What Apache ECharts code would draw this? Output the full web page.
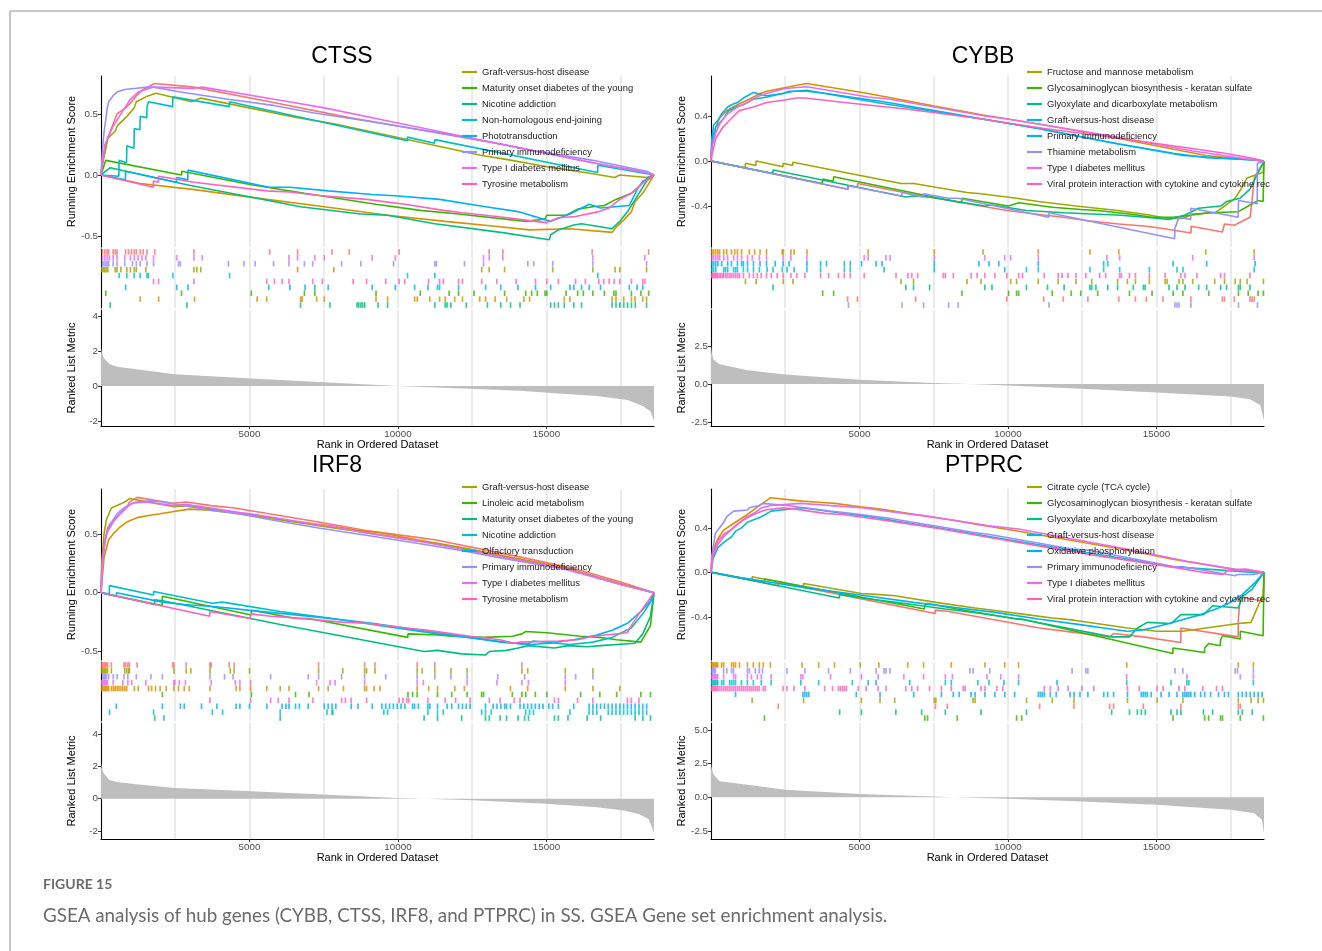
<!DOCTYPE html>
<html>
<head>
<meta charset="utf-8">
<title>GSEA analysis of hub genes</title>
<script src="https://cdn.jsdelivr.net/npm/echarts@6/dist/echarts.min.js"></script>
<style>
  html, body { margin: 0; padding: 0; background: #fff; }
  #chart { width: 1322px; height: 951px; }
</style>
</head>
<body>
<div id="chart"></div>
<script>
// ggplot hue palette (10 gene sets per panel, first two not listed in the legend)
var setColors = ['#F8766D', '#D89000', '#A3A500', '#39B600', '#00BF7D', '#00BFC4', '#00B0F6', '#9590FF', '#E76BF3', '#FF62BC'];
var nGenes = 18620;
var rankTicks = [5000, 10000, 15000];

// ---------------- CTSS ----------------
var ctssSets = [null, null, 'Graft-versus-host disease', 'Maturity onset diabetes of the young', 'Nicotine addiction',
  'Non-homologous end-joining', 'Phototransduction', 'Primary immunodeficiency', 'Type I diabetes mellitus', 'Tyrosine metabolism'];
var ctssRugOrder = [0, 8, 7, 2, 5, 9, 6, 3, 1, 4];
var ctssScores = [
  [[0,0],[50,0.08],[130,0.2],[210,0.3],[280,0.34],[410,0.42],[540,0.5],[830,0.55],[1030,0.6],[1190,0.65],[1420,0.7],[1810,0.75],[3130,0.72],[5680,0.6],[8360,0.47],[10040,0.4],[13530,0.25],[16540,0.1],[18440,0.02],[18620,0]],
  [[0,0],[1320,-0.07],[3150,-0.12],[5580,-0.2],[7520,-0.26],[9650,-0.33],[11590,-0.38],[13270,-0.42],[14430,-0.45],[15790,-0.44],[17210,-0.47],[17340,-0.43],[17600,-0.37],[17860,-0.3],[17980,-0.22],[18240,-0.15],[18370,-0.1],[18620,0]],
  [[0,0],[30,0.08],[130,0.18],[230,0.3],[480,0.36],[540,0.4],[870,0.48],[1120,0.55],[1190,0.6],[1510,0.64],[1850,0.67],[3050,0.6],[3360,0.63],[6620,0.47],[7840,0.42],[12820,0.16],[13590,0.13],[15210,0.06],[16560,0.01],[17300,-0.02],[17470,0.0],[18370,-0.02],[18620,0]],
  [[0,0],[160,0.12],[2710,0.0],[2720,0.03],[5060,-0.08],[6850,-0.15],[9260,-0.24],[10750,-0.29],[12040,-0.32],[14300,-0.38],[14950,-0.36],[15010,-0.33],[15660,-0.33],[16050,-0.28],[16560,-0.26],[16950,-0.25],[17340,-0.2],[17860,-0.15],[18180,-0.08],[18440,-0.02],[18620,0]],
  [[0,0],[310,0.06],[2890,-0.08],[6720,-0.26],[8750,-0.32],[9650,-0.33],[11240,-0.4],[13460,-0.47],[15100,-0.53],[15140,-0.49],[15400,-0.45],[15920,-0.41],[16180,-0.4],[17210,-0.44],[17470,-0.38],[17730,-0.3],[17990,-0.2],[18370,-0.05],[18620,0]],
  [[0,0],[600,-0.01],[610,0.12],[860,0.1],[870,0.24],[1110,0.22],[1120,0.38],[1310,0.37],[1320,0.48],[1540,0.47],[1550,0.56],[1600,0.6],[2410,0.56],[2420,0.64],[4320,0.56],[4330,0.6],[10310,0.28],[10320,0.31],[11230,0.26],[11240,0.29],[16720,0.02],[16730,0.08],[18620,0]],
  [[0,0],[820,-0.04],[830,0.03],[2540,-0.06],[2550,-0.02],[2920,-0.04],[2930,0.04],[5650,-0.1],[6360,-0.1],[7650,-0.13],[9130,-0.16],[9910,-0.17],[11400,-0.2],[12950,-0.26],[14040,-0.3],[15140,-0.38],[15790,-0.32],[16180,-0.27],[16440,-0.24],[16820,-0.27],[17790,-0.25],[18050,-0.12],[18240,-0.05],[18620,0]],
  [[0,0],[50,0.2],[100,0.35],[160,0.45],[210,0.55],[260,0.6],[410,0.65],[540,0.68],[800,0.7],[1190,0.71],[1550,0.72],[1770,0.72],[2670,0.68],[4290,0.62],[5810,0.57],[7130,0.51],[8750,0.45],[11290,0.35],[12880,0.28],[14570,0.2],[16560,0.12],[18370,0.03],[18620,0]],
  [[0,0],[50,0.1],[130,0.25],[280,0.33],[410,0.4],[540,0.45],[800,0.55],[990,0.62],[1250,0.68],[1510,0.7],[1770,0.72],[3130,0.71],[3410,0.72],[6330,0.6],[7520,0.55],[9910,0.43],[13530,0.25],[16560,0.1],[18310,0.02],[18620,0]],
  [[0,0],[1760,-0.1],[1770,-0.05],[1930,-0.06],[1940,-0.01],[3130,-0.06],[5580,-0.13],[6330,-0.14],[7450,-0.17],[8940,-0.2],[10230,-0.24],[11530,-0.29],[12170,-0.31],[13330,-0.34],[14630,-0.38],[15010,-0.39],[15400,-0.35],[15980,-0.34],[16760,-0.3],[17110,-0.27],[17470,-0.2],[17860,-0.15],[18310,-0.05],[18620,0]]
];
var ctssHits = [
  [50,130,210,260,410,480,540,830,930,1030,1120,1190,1320,1420,1550,1810,3130,5680,6620,7780,8360,10040,13070,13530,16540,18440],
  [1320,1940,3150,5260,5580,6720,6770,7260,7520,9260,9650,10560,10650,11070,11400,11590,11910,12170,12750,12950,13270,13660,14240,14430,15600,15790,17210,17340,17600,17860,17980,18240,18370],
  [30,80,130,180,230,480,540,670,870,990,1120,1190,1510,3130,3230,3360,6620,7840,12820,13070,13590,15210,16560,17310,17470,18370],
  [160,2710,5060,6850,7200,9260,10750,11720,12040,12560,13590,14300,14500,14690,14950,15010,15660,16050,16240,16560,16950,17270,17340,17860,18180,18440],
  [310,2890,6720,7710,8620,8680,8750,8810,8880,9330,9650,11240,11590,11650,11780,12300,13010,13460,13790,14110,15140,15270,15400,15600,15920,16180,17210,17340,17470,17600,17730,17860,17990,18370],
  [610,870,1120,1320,1550,1600,2420,4330,10320,11240,16730],
  [830,2550,2930,5650,6360,6870,7200,7650,9130,9910,10560,11010,11330,11400,12040,12950,13460,14040,14630,15140,15790,15920,16180,16440,16820,17790,18050,18240],
  [50,100,160,210,260,410,540,800,1060,1190,1320,1550,1770,2610,2670,4290,4810,5190,5810,6330,6850,7130,8100,8750,9850,11240,11290,12240,12880,14370,14570,15210,16560,18370],
  [50,130,210,280,410,540,800,990,1120,1250,1380,1510,1770,2550,3130,3410,6330,6620,7200,7520,9130,9910,12880,13070,13530,16560,18310],
  [1770,1940,3130,5580,5840,6100,6330,7130,7450,8490,8940,9590,10040,10230,11030,11400,11530,12040,12170,12820,13330,13980,14630,15010,15400,15980,16310,16760,16930,17110,17280,17470,17860,18240,18310]
];
var ctssMetric = [[0,2.2],[30,1.85],[90,1.6],[280,1.25],[540,1.1],[1190,0.95],[2480,0.67],[5065,0.42],[7650,0.2],[9980,0],[11525,-0.1],[14110,-0.28],[15400,-0.43],[16690,-0.57],[17730,-0.8],[18240,-1.15],[18500,-1.45],[18620,-2.0]];

// ---------------- CYBB ----------------
var cybbSets = [null, null, 'Fructose and mannose metabolism', 'Glycosaminoglycan biosynthesis - keratan sulfate',
  'Glyoxylate and dicarboxylate metabolism', 'Graft-versus-host disease', 'Primary immunodeficiency', 'Thiamine metabolism',
  'Type I diabetes mellitus', 'Viral protein interaction with cytokine and cytokine receptor'];
var cybbRugOrder = [1, 8, 6, 5, 9, 2, 4, 3, 0, 7];
var cybbScores = [
  [[0,0],[4600,-0.25],[4610,-0.22],[4930,-0.23],[4940,-0.2],[6890,-0.3],[9960,-0.44],[11200,-0.48],[11860,-0.5],[12690,-0.53],[13730,-0.56],[14660,-0.58],[15220,-0.6],[16160,-0.64],[16170,-0.58],[17220,-0.63],[17290,-0.56],[17620,-0.57],[18150,-0.5],[18220,-0.35],[18290,-0.15],[18620,0]],
  [[0,0],[30,0.15],[160,0.3],[290,0.38],[530,0.45],[890,0.5],[1290,0.55],[1650,0.6],[1870,0.62],[2430,0.65],[2800,0.67],[3230,0.69],[5290,0.6],[7520,0.49],[9160,0.41],[11020,0.33],[12760,0.25],[13730,0.2],[16660,0.05],[18290,0.01],[18620,0]],
  [[0,0],[1150,-0.06],[1160,-0.02],[1510,-0.04],[1520,0.0],[2420,-0.05],[2430,-0.02],[2750,-0.04],[2760,-0.01],[6400,-0.2],[6820,-0.2],[8620,-0.28],[9090,-0.29],[10290,-0.33],[11020,-0.36],[12290,-0.4],[13690,-0.44],[14760,-0.48],[15360,-0.51],[15890,-0.51],[16220,-0.47],[16960,-0.46],[17290,-0.4],[17650,-0.33],[17820,-0.26],[18050,-0.15],[18590,-0.1],[18620,0]],
  [[0,0],[3750,-0.2],[3760,-0.16],[4120,-0.18],[4130,-0.14],[8440,-0.37],[8450,-0.33],[10020,-0.4],[10360,-0.37],[11490,-0.41],[12450,-0.43],[13020,-0.44],[14090,-0.47],[14850,-0.5],[15560,-0.5],[15890,-0.49],[16760,-0.46],[17760,-0.45],[18090,-0.4],[18420,-0.35],[18590,-0.36],[18620,0]],
  [[0,0],[2080,-0.11],[2090,-0.08],[6560,-0.32],[6820,-0.31],[7360,-0.32],[9220,-0.4],[9460,-0.39],[10620,-0.44],[11330,-0.45],[11890,-0.46],[12820,-0.47],[13690,-0.48],[14620,-0.5],[15420,-0.52],[15960,-0.48],[16420,-0.42],[17160,-0.4],[17360,-0.36],[17820,-0.33],[18150,-0.25],[18620,0]],
  [[0,0],[30,0.18],[160,0.3],[430,0.38],[560,0.44],[830,0.48],[1090,0.5],[1430,0.55],[1890,0.57],[2400,0.6],[2800,0.62],[3230,0.63],[4690,0.56],[5830,0.51],[7520,0.44],[9890,0.34],[11020,0.29],[13760,0.15],[15890,0.05],[18290,0.01],[18620,0]],
  [[0,0],[30,0.2],[90,0.32],[230,0.36],[360,0.42],[560,0.48],[690,0.5],[890,0.52],[1090,0.56],[1230,0.58],[1430,0.61],[1870,0.58],[2430,0.6],[2630,0.62],[3230,0.62],[3890,0.6],[4690,0.57],[5760,0.53],[7520,0.45],[9690,0.35],[11020,0.29],[13360,0.17],[15560,0.07],[16690,0.03],[18320,0.01],[18620,0]],
  [[0,0],[4620,-0.25],[4630,-0.22],[6420,-0.31],[6430,-0.28],[7150,-0.32],[7160,-0.29],[8000,-0.33],[8320,-0.33],[11370,-0.5],[11380,-0.46],[15610,-0.69],[15620,-0.6],[15760,-0.5],[16150,-0.52],[16160,-0.42],[17750,-0.5],[17760,-0.35],[18390,-0.38],[18400,-0.02],[18620,0]],
  [[0,0],[30,0.12],[160,0.25],[290,0.33],[430,0.38],[560,0.42],[890,0.48],[1230,0.52],[1630,0.58],[1870,0.6],[2430,0.64],[2690,0.65],[3230,0.66],[5290,0.57],[6030,0.55],[7520,0.48],[9220,0.4],[10090,0.37],[11020,0.33],[13330,0.23],[13760,0.21],[16220,0.09],[18290,0.01],[18620,0]],
  [[0,0],[30,0.05],[160,0.2],[400,0.3],[690,0.38],[960,0.45],[1430,0.48],[1870,0.52],[2430,0.54],[2890,0.56],[3160,0.56],[4490,0.52],[6630,0.46],[8960,0.38],[11220,0.29],[13820,0.2],[15960,0.12],[17290,0.07],[18150,0.03],[18620,0]]
];
var cybbHits = [
  [4600,4930,6890,9960,11200,11860,12690,13730,14290,14660,15220,16160,17220,17290,17620,18150,18220,18290],
  [30,90,160,230,290,430,530,690,800,890,1030,1290,1470,1650,1870,2400,2430,2690,2800,3230,5290,7520,9160,11020,12760,13730,16660,18290],
  [1160,1520,2430,2760,6400,6820,8620,9090,10090,10290,11020,11690,12290,12820,13690,14020,14290,14760,15290,15360,15760,15890,16220,16960,17290,17650,17820,18050,18600],
  [3760,4130,8450,10020,10290,10360,11490,12130,12450,13020,14090,14850,15560,15890,16760,17760,18090,18420,18600],
  [2090,6560,6820,7360,9220,9460,10620,11330,11890,12760,12820,12960,13360,13690,14220,14560,14620,15420,15690,15960,16420,16690,17160,17360,17760,17820,18150],
  [30,90,160,430,490,560,760,830,890,1090,1230,1430,1630,1890,2090,2400,2560,2800,3230,3690,4490,4690,5830,7520,9890,10620,11020,12760,13220,13760,14760,15690,15890,18290],
  [30,90,160,230,360,560,690,890,1030,1090,1230,1430,1650,1870,2160,2430,2630,3230,3690,3890,4490,4690,5070,5560,5760,7520,9020,9360,9690,11020,13220,13360,15560,16690,18320],
  [4630,6430,7160,8000,8320,11380,15620,15690,15760,16160,17760,18400],
  [30,90,160,230,290,430,560,760,890,1030,1230,1390,1630,1870,2430,2690,3230,5160,5290,5890,6030,7520,9220,9890,10090,11020,13330,13760,16220,18290],
  [30,60,90,130,160,200,230,290,330,400,430,500,560,630,690,760,830,900,960,1090,1290,1430,1560,1690,1870,2030,2230,2430,2690,2890,3160,3690,3960,4290,4490,4690,5160,6230,6630,6760,6960,7820,7890,8160,8760,8960,9220,9560,9960,10360,10490,11220,11690,11820,12020,12290,12620,13090,13290,13760,13820,14090,14290,14760,15290,15820,15960,16360,17160,17290,18150]
];
var cybbMetric = [[0,2.6],[30,2.0],[90,1.6],[290,1.3],[1230,0.9],[2500,0.62],[5000,0.29],[7500,0.07],[8700,0],[10000,-0.09],[12500,-0.31],[15000,-0.56],[17500,-0.82],[18150,-1.0],[18490,-1.38],[18620,-2.4]];

// ---------------- IRF8 ----------------
var irf8Sets = [null, null, 'Graft-versus-host disease', 'Linoleic acid metabolism', 'Maturity onset diabetes of the young',
  'Nicotine addiction', 'Olfactory transduction', 'Primary immunodeficiency', 'Type I diabetes mellitus', 'Tyrosine metabolism'];
var irf8RugOrder = [0, 2, 7, 8, 1, 3, 9, 6, 5, 4];
var irf8Scores = [
  [[0,0],[26,0.2],[103,0.4],[220,0.55],[349,0.6],[775,0.7],[904,0.74],[956,0.77],[1214,0.81],[2416,0.76],[2868,0.77],[3708,0.74],[4483,0.72],[7326,0.6],[8876,0.53],[10646,0.47],[11240,0.45],[14173,0.3],[16000,0.2],[17500,0.09],[18620,0]],
  [[0,0],[103,0.3],[258,0.45],[413,0.5],[607,0.55],[866,0.6],[1253,0.64],[1705,0.66],[1990,0.67],[2455,0.69],[2972,0.71],[3669,0.7],[4677,0.67],[5581,0.64],[6331,0.61],[7649,0.57],[8941,0.52],[9393,0.51],[10646,0.45],[12235,0.38],[13786,0.3],[15633,0.21],[17468,0.08],[18620,0]],
  [[0,0],[26,0.25],[103,0.5],[181,0.62],[349,0.72],[801,0.77],[956,0.8],[2455,0.73],[3023,0.74],[3669,0.71],[4483,0.68],[5000,0.66],[7326,0.57],[8941,0.51],[10646,0.44],[11240,0.42],[12326,0.37],[14367,0.27],[15633,0.21],[16563,0.14],[17500,0.07],[18620,0]],
  [[0,0],[2060,-0.11],[2067,-0.03],[5060,-0.19],[5065,-0.15],[6550,-0.22],[7003,-0.22],[10330,-0.38],[10336,-0.35],[11331,-0.36],[11809,-0.37],[12881,-0.38],[13850,-0.37],[14173,-0.35],[14302,-0.33],[15013,-0.34],[16150,-0.37],[16796,-0.38],[17364,-0.4],[18178,-0.42],[18501,-0.28],[18620,0]],
  [[0,0],[1800,-0.1],[1809,-0.06],[2119,-0.07],[6034,-0.27],[10879,-0.5],[11331,-0.49],[12145,-0.52],[12946,-0.53],[13075,-0.5],[13656,-0.49],[14044,-0.47],[14393,-0.45],[15271,-0.47],[15724,-0.45],[16370,-0.46],[16822,-0.45],[17984,-0.43],[18243,-0.35],[18501,-0.2],[18620,0]],
  [[0,0],[280,-0.01],[284,0.06],[1770,-0.02],[1775,0.01],[3747,-0.09],[4096,-0.08],[6034,-0.16],[7804,-0.22],[9651,-0.29],[11331,-0.35],[12946,-0.4],[14302,-0.44],[14561,-0.41],[15788,-0.44],[16563,-0.42],[17210,-0.38],[17855,-0.3],[18243,-0.18],[18501,-0.08],[18620,0]],
  [[0,0],[517,-0.03],[520,0.0],[2067,-0.08],[2804,-0.1],[3902,-0.12],[5000,-0.15],[6227,-0.18],[7713,-0.22],[9134,-0.26],[10233,-0.3],[11331,-0.34],[12429,-0.38],[13463,-0.42],[14496,-0.44],[15078,-0.43],[15917,-0.4],[16693,-0.36],[17210,-0.32],[17726,-0.26],[18178,-0.16],[18501,-0.07],[18620,0]],
  [[0,0],[65,0.3],[142,0.45],[258,0.55],[413,0.62],[543,0.67],[775,0.72],[904,0.74],[1189,0.77],[1680,0.78],[2067,0.77],[3669,0.7],[4444,0.68],[5711,0.62],[7326,0.55],[8876,0.49],[10646,0.42],[12326,0.35],[13359,0.3],[15633,0.2],[16563,0.14],[17500,0.07],[18620,0]],
  [[0,0],[65,0.3],[181,0.5],[413,0.6],[736,0.7],[904,0.73],[1034,0.76],[1512,0.77],[2455,0.74],[2842,0.75],[3708,0.72],[4677,0.68],[5039,0.67],[7261,0.58],[7881,0.56],[8876,0.51],[10853,0.43],[12326,0.36],[14393,0.26],[15633,0.2],[17500,0.07],[18620,0]],
  [[0,0],[3660,-0.2],[3669,-0.16],[5030,-0.22],[5039,-0.18],[5711,-0.2],[6331,-0.21],[8101,-0.25],[8941,-0.26],[10297,-0.3],[11008,-0.32],[12429,-0.37],[13437,-0.4],[13915,-0.43],[14109,-0.42],[15401,-0.41],[16047,-0.4],[16563,-0.37],[17726,-0.34],[17855,-0.28],[18114,-0.18],[18620,0]]
];
var irf8Hits = [
  [26,65,103,142,181,220,349,775,827,904,956,1214,2416,2455,2868,3669,3708,4315,4483,7326,8876,9225,10646,11240,14173],
  [26,65,103,142,181,220,258,349,413,478,543,607,672,736,801,866,1124,1253,1602,1705,1835,1990,2196,2455,2610,2804,2972,3669,4548,4677,5039,5581,6034,6331,7326,7649,8165,8876,8941,9199,9393,10646,11034,11331,11912,12235,13786,14367,15633,16563,17468],
  [26,65,103,142,181,220,349,801,866,930,956,2455,2868,3023,3669,4354,4483,5000,7326,8140,8876,8941,9225,10646,10814,11240,11783,12326,14173,14367,15633,16563],
  [2067,5065,6550,7003,10336,10491,10646,11331,11809,12326,12817,12881,13850,14173,14302,14625,15013,16150,16796,17364,18178,18501],
  [1809,2119,6034,10879,11331,12145,12946,13075,13437,13656,14044,14264,14393,15271,15401,15724,16370,16822,17984,18243,18501],
  [284,1770,3747,4096,6034,7610,7778,7804,9522,9651,11008,11331,11525,12817,12946,13140,14302,14431,14561,15788,16434,16563,16693,17080,17210,17339,17468,17597,17726,17855,17984,18114,18243,18372],
  [517,2067,2674,2804,3385,3902,4548,4677,5000,5581,6098,6227,6331,6550,6680,6977,7519,7649,7778,7907,8424,8656,9134,9457,9587,9716,9845,9974,10103,10233,10491,10556,10685,11008,11072,11331,11654,11809,12041,12171,12300,12429,12946,13204,13333,13463,13592,13656,13786,14109,14238,14367,14496,14625,14755,14884,15078,15207,15401,15917,16434,16563,16693,16822,16951,17080,17210,17339,17468,17597,17726,17855,17984,18114,18243,18372],
  [65,103,142,181,258,413,543,775,904,1189,1680,2067,3669,4160,4444,5711,6977,7326,8101,8876,9587,10646,11240,11783,12326,13359,14264,15633,15982,16563],
  [26,65,103,142,181,220,413,736,904,1034,1512,2455,2481,2636,2842,3708,4522,4677,5039,7261,7713,7881,8876,10646,10853,12326,13333,14173,14393,15633],
  [3669,5039,5711,5969,6331,7132,8101,8230,8424,8941,10039,10168,10297,10362,11008,11589,11938,12429,13075,13437,13915,14109,15271,15401,16047,16563,17726,17855,18114]
];
var irf8Metric = [[0,2.2],[30,1.85],[90,1.57],[280,1.15],[540,1.04],[1190,0.9],[2480,0.67],[5065,0.46],[7650,0.25],[9980,0.04],[10880,0],[12500,-0.1],[15000,-0.31],[16690,-0.52],[17600,-0.73],[18110,-0.94],[18440,-1.25],[18620,-2.1]];

// ---------------- PTPRC ----------------
var ptprcSets = [null, null, 'Citrate cycle (TCA cycle)', 'Glycosaminoglycan biosynthesis - keratan sulfate',
  'Glyoxylate and dicarboxylate metabolism', 'Graft-versus-host disease', 'Oxidative phosphorylation', 'Primary immunodeficiency',
  'Type I diabetes mellitus', 'Viral protein interaction with cytokine and cytokine receptor'];
var ptprcRugOrder = [1, 7, 8, 5, 9, 6, 2, 0, 4, 3];
var ptprcScores = [
  [[0,0],[2260,-0.12],[2266,-0.09],[7550,-0.37],[7558,-0.34],[7958,-0.35],[11064,-0.5],[12223,-0.54],[13423,-0.58],[13556,-0.55],[14556,-0.58],[15820,-0.63],[15823,-0.5],[17750,-0.58],[17756,-0.42],[17822,-0.22],[18600,-0.26],[18620,0]],
  [[0,0],[67,0.2],[227,0.3],[427,0.38],[826,0.45],[1226,0.52],[1626,0.6],[2000,0.67],[3066,0.64],[3626,0.63],[4159,0.62],[5025,0.59],[5652,0.57],[6625,0.53],[8091,0.47],[9224,0.42],[10357,0.37],[13997,0.2],[15500,0.12],[17756,0.02],[18262,0.0],[18620,0]],
  [[0,0],[1380,-0.07],[1386,-0.04],[3110,-0.13],[3119,-0.1],[5065,-0.19],[5692,-0.2],[6185,-0.21],[7571,-0.27],[8891,-0.32],[10624,-0.38],[11490,-0.41],[12223,-0.43],[14023,-0.5],[15023,-0.53],[15889,-0.53],[17756,-0.46],[18182,-0.45],[18422,-0.3],[18590,-0.2],[18620,0]],
  [[0,0],[1800,-0.09],[1806,-0.06],[7190,-0.33],[7198,-0.3],[7292,-0.28],[8291,-0.33],[10291,-0.42],[10464,-0.42],[15550,-0.73],[15556,-0.68],[16620,-0.72],[16622,-0.68],[16756,-0.64],[17150,-0.66],[17156,-0.61],[17222,-0.57],[17820,-0.6],[17822,-0.53],[18590,-0.57],[18620,0]],
  [[0,0],[4320,-0.23],[4332,-0.2],[5065,-0.23],[6225,-0.27],[7092,-0.3],[7891,-0.33],[9091,-0.37],[10624,-0.43],[13490,-0.58],[14090,-0.58],[14356,-0.5],[14690,-0.45],[15490,-0.46],[15823,-0.38],[16582,-0.38],[16889,-0.3],[17756,-0.32],[17889,-0.22],[18222,-0.15],[18620,0]],
  [[0,0],[67,0.12],[227,0.22],[427,0.27],[693,0.32],[826,0.37],[1026,0.4],[1226,0.45],[1693,0.5],[2026,0.55],[3026,0.58],[3626,0.56],[4759,0.52],[5559,0.49],[6692,0.44],[8091,0.38],[9864,0.3],[11650,0.22],[13997,0.12],[15490,0.05],[16089,0.04],[18262,0.0],[18620,0]],
  [[0,0],[820,-0.04],[3200,-0.14],[4892,-0.2],[6825,-0.27],[8358,-0.32],[9558,-0.36],[11024,-0.42],[12424,-0.47],[13223,-0.5],[13997,-0.53],[14489,-0.52],[14823,-0.5],[15423,-0.46],[15956,-0.42],[16489,-0.38],[17089,-0.32],[17422,-0.28],[17889,-0.2],[18289,-0.1],[18556,-0.02],[18620,0]],
  [[0,0],[27,0.15],[107,0.28],[147,0.35],[427,0.45],[533,0.5],[760,0.55],[1226,0.56],[1293,0.58],[1626,0.6],[1733,0.62],[2559,0.6],[3159,0.58],[4026,0.55],[4692,0.53],[5892,0.49],[8824,0.36],[9384,0.34],[12157,0.21],[12690,0.2],[15623,0.05],[15889,0.05],[17649,-0.03],[17729,-0.02],[18262,-0.02],[18620,0]],
  [[0,0],[67,0.15],[227,0.25],[427,0.32],[826,0.42],[1226,0.5],[1560,0.55],[1693,0.58],[2026,0.6],[3026,0.62],[4026,0.6],[5065,0.58],[5625,0.56],[6492,0.53],[7158,0.51],[8131,0.47],[9291,0.42],[10357,0.39],[13997,0.21],[16023,0.1],[17822,0.02],[18262,0.01],[18620,0]],
  [[0,0],[27,0.1],[107,0.2],[227,0.28],[427,0.34],[760,0.4],[1026,0.46],[1426,0.52],[1826,0.56],[2426,0.58],[2799,0.57],[3826,0.53],[4426,0.52],[5225,0.49],[6558,0.44],[7758,0.39],[9224,0.32],[11424,0.22],[13000,0.15],[15223,0.06],[16556,0.0],[17222,-0.02],[17422,0.02],[18000,0.03],[18620,0]]
];
var ptprcHits = [
  [2266,7558,7958,11064,12223,13423,13556,14556,15823,17756,17822],
  [27,67,107,147,187,227,360,427,693,760,826,960,1226,1426,1626,1760,2000,3066,3626,4159,5025,5652,6625,7158,8091,9224,9891,10357,13997,17756,18262],
  [1386,3119,5065,5692,6185,7518,7571,8824,8891,10624,11490,12223,14023,15023,15889,17756,18182,18422,18600],
  [1800,7198,7292,8291,10291,10464,15556,16622,16756,17156,17222,17822,18600],
  [4332,5065,6225,7092,7891,9091,10624,13490,14090,14356,14489,14623,15490,15690,15823,16582,16889,17756,17889,18222],
  [27,67,107,147,187,227,360,427,627,693,760,826,1026,1226,1426,1693,2026,3026,3626,4759,5292,5559,6692,7891,8091,8984,9358,9864,10357,11650,13997,15490,16023,16089,18262],
  [826,3093,3159,3226,3293,4892,5692,6825,7758,8158,8358,8758,8891,9224,9558,9891,10224,11024,11091,11157,11224,11424,11624,12090,12223,12424,12690,13223,13356,13556,14023,14489,14556,14623,14690,14823,15156,15423,15690,15889,15956,16023,16089,16156,16289,16489,16622,16822,17089,17289,17422,17756,17889,18022,18156,18289,18422,18556],
  [27,67,107,147,427,533,693,760,1226,1293,1493,1626,1733,2559,3159,3959,4692,5559,5825,5892,6025,8718,8824,9384,12157,12623,12690,15623,15889,17649,17729,18262],
  [27,67,107,147,187,227,427,760,826,1226,1360,1560,1693,2026,3026,3093,4026,5065,5625,6492,7158,7891,8131,9291,9758,10357,13997,16023,17822,18262],
  [27,67,107,147,187,227,293,360,427,493,560,627,693,760,826,893,960,1026,1093,1160,1226,1293,1360,1426,1493,1560,1626,1760,1826,2426,2559,2799,3159,3826,4092,4292,4359,4426,4493,4559,4959,5225,5625,5892,6558,6758,6958,7358,7758,8091,8491,8558,9091,9224,9624,9824,11224,11424,11690,12024,12490,12890,14023,14423,15023,15223,15756,15956,16556,17022,17222]
];
var ptprcMetric = [[0,2.6],[30,2.05],[90,1.69],[290,1.19],[1230,0.94],[2500,0.57],[5000,0.25],[7500,0.07],[8160,0],[10000,-0.1],[12500,-0.3],[15000,-0.55],[17500,-0.92],[18290,-1.17],[18550,-1.66],[18620,-2.65]];

var panels = [
  { gene: 'CTSS', sets: ctssSets, scores: ctssScores, hits: ctssHits, rugOrder: ctssRugOrder, metric: ctssMetric,
    scoreMin: -0.59, scoreMax: 0.811, scoreTicks: [-0.5, 0, 0.5], scoreDigits: 1,
    metricMin: -2.29, metricMax: 4.34, metricTicks: [-2, 0, 2, 4], metricDigits: 0,
    left: 101, top: 76, titleX: 342, titleY: 57, legendX: 462, legendY: 64, legendW: 260 },
  { gene: 'CYBB', sets: cybbSets, scores: cybbScores, hits: cybbHits, rugOrder: cybbRugOrder, metric: cybbMetric,
    scoreMin: -0.764, scoreMax: 0.756, scoreTicks: [-0.4, 0, 0.4], scoreDigits: 1,
    metricMin: -2.76, metricMax: 4.87, metricTicks: [-2.5, 0, 2.5], metricDigits: 1,
    left: 711, top: 76, titleX: 983, titleY: 57, legendX: 1027, legendY: 64, legendW: 230 },
  { gene: 'IRF8', sets: irf8Sets, scores: irf8Scores, hits: irf8Hits, rugOrder: irf8RugOrder, metric: irf8Metric,
    scoreMin: -0.572, scoreMax: 0.881, scoreTicks: [-0.5, 0, 0.5], scoreDigits: 1,
    metricMin: -2.49, metricMax: 4.68, metricTicks: [-2, 0, 2, 4], metricDigits: 0,
    left: 101, top: 489, titleX: 337, titleY: 466, legendX: 462, legendY: 479, legendW: 260 },
  { gene: 'PTPRC', sets: ptprcSets, scores: ptprcScores, hits: ptprcHits, rugOrder: ptprcRugOrder, metric: ptprcMetric,
    scoreMin: -0.788, scoreMax: 0.749, scoreTicks: [-0.4, 0, 0.4], scoreDigits: 1,
    metricMin: -3.09, metricMax: 5.52, metricTicks: [-2.5, 0, 2.5, 5], metricDigits: 1,
    left: 711, top: 489, titleX: 984, titleY: 466, legendX: 1027, legendY: 479, legendW: 230 }
];

var FONT = "'Liberation Sans', Arial, sans-serif";
var PLOT_W = 553;

var chart = echarts.init(document.getElementById('chart'));
var option = {
  animation: false,
  backgroundColor: '#ffffff',
  textStyle: { fontFamily: FONT },
  grid: [], xAxis: [], yAxis: [], series: [], legend: [], graphic: []
};

function fmt(d) {
  return function (v) { return Number(v).toFixed(d); };
}

function seriesName(p, i) {
  return p.gene + '|' + (p.sets[i] || ('set ' + (i + 1)));
}

panels.forEach(function (p) {
  var g = option.grid.length;

  // score / rug / ranked metric stacked panels
  option.grid.push(
    { left: p.left, top: p.top, width: PLOT_W, height: 171 },
    { left: p.left, top: p.top + 173, width: PLOT_W, height: 59 },
    { left: p.left, top: p.top + 234, width: PLOT_W, height: 116 }
  );

  // x axes: index g+k carries the data; a second axis per grid only draws the 2500-step grid lines
  var gridAxes = [];
  [0, 1, 2].forEach(function (k) {
    var bottom = k === 2;
    option.xAxis.push({
      type: 'value', gridIndex: g + k, min: 0, max: nGenes, position: 'bottom',
      axisLine: { show: bottom, onZero: false, lineStyle: { color: '#000', width: 1.1 } },
      axisTick: { show: bottom, customValues: rankTicks, length: 3, lineStyle: { color: '#333' } },
      axisLabel: { show: bottom, customValues: rankTicks, formatter: fmt(0), margin: 3, fontSize: 9.8, color: '#4D4D4D', fontFamily: FONT },
      splitLine: { show: false },
      name: bottom ? 'Rank in Ordered Dataset' : '',
      nameLocation: 'middle', nameGap: 13,
      nameTextStyle: { fontSize: 11, color: '#000', fontFamily: FONT }
    });
    gridAxes.push({
      type: 'value', gridIndex: g + k, min: 0, max: nGenes, interval: 2500, position: 'top',
      axisLine: { show: false }, axisTick: { show: false }, axisLabel: { show: false },
      splitLine: { show: true, showMinLine: false, showMaxLine: false, lineStyle: { color: '#E6E6E6', width: 1.6 } }
    });
  });

  option.yAxis.push({
    type: 'value', gridIndex: g, min: p.scoreMin, max: p.scoreMax,
    axisLine: { show: true, onZero: false, lineStyle: { color: '#000', width: 1.1 } },
    axisTick: { show: true, customValues: p.scoreTicks, length: 3, lineStyle: { color: '#333' } },
    axisLabel: { customValues: p.scoreTicks, formatter: fmt(p.scoreDigits), margin: 3, fontSize: 9.8, color: '#4D4D4D', fontFamily: FONT },
    splitLine: { show: false },
    name: 'Running Enrichment Score', nameLocation: 'middle', nameGap: 24,
    nameTextStyle: { fontSize: 11, color: '#000', fontFamily: FONT }
  }, {
    type: 'value', gridIndex: g + 1, min: 0, max: 10, inverse: true,
    axisLine: { show: true, onZero: false, lineStyle: { color: '#000', width: 1.1 } },
    axisTick: { show: false }, axisLabel: { show: false }, splitLine: { show: false }
  }, {
    type: 'value', gridIndex: g + 2, min: p.metricMin, max: p.metricMax,
    axisLine: { show: true, onZero: false, lineStyle: { color: '#000', width: 1.1 } },
    axisTick: { show: true, customValues: p.metricTicks, length: 3, lineStyle: { color: '#333' } },
    axisLabel: { customValues: p.metricTicks, formatter: fmt(p.metricDigits), margin: 3, fontSize: 9.8, color: '#4D4D4D', fontFamily: FONT },
    splitLine: { show: false },
    name: 'Ranked List Metric', nameLocation: 'middle', nameGap: 24,
    nameTextStyle: { fontSize: 11, color: '#000', fontFamily: FONT }
  });
  p.gridAxes = gridAxes;

  // running enrichment score curves
  p.scores.forEach(function (pts, i) {
    option.series.push({
      type: 'line', name: seriesName(p, i), xAxisIndex: g, yAxisIndex: g,
      data: pts, symbol: 'none', silent: true,
      lineStyle: { color: setColors[i], width: 1.6 },
      itemStyle: { color: setColors[i] }
    });
  });

  // hit positions (rug)
  p.hits.forEach(function (hits, i) {
    var row = p.rugOrder.indexOf(i);
    option.series.push({
      type: 'scatter', xAxisIndex: g + 1, yAxisIndex: g + 1, silent: true,
      symbol: 'rect', symbolSize: [1.7, 5.6],
      itemStyle: { color: setColors[i] },
      data: hits.map(function (r) { return [r, row + 0.5]; })
    });
  });

  // ranked list metric
  option.series.push({
    type: 'line', xAxisIndex: g + 2, yAxisIndex: g + 2, data: p.metric,
    symbol: 'none', silent: true,
    lineStyle: { width: 0, color: '#BEBEBE' },
    areaStyle: { color: '#BEBEBE', opacity: 1 }
  });

  var legendNames = [];
  for (var i = 2; i < p.sets.length; i++) legendNames.push(seriesName(p, i));
  option.legend.push({
    orient: 'vertical', left: p.legendX, top: p.legendY, padding: 0, itemGap: 0,
    itemWidth: 15, itemHeight: 2.2, icon: 'rect', selectedMode: false,
    data: legendNames,
    formatter: function (n) { return n.slice(n.indexOf('|') + 1); },
    textStyle: { fontSize: 9.4, color: '#1A1A1A', lineHeight: 16, fontFamily: FONT,
                 width: p.legendW, overflow: 'truncate', ellipsis: '' }
  });

  option.graphic.push({
    type: 'text', x: p.titleX, y: p.titleY, silent: true,
    style: { text: p.gene, fill: '#000', font: "23px 'Liberation Sans', Arial, sans-serif",
             textAlign: 'center', textVerticalAlign: 'middle', verticalAlign: 'middle' }
  });
});

// grid-line axes go after all data axes so data axis indices stay 0..11
panels.forEach(function (p) {
  p.gridAxes.forEach(function (a) { option.xAxis.push(a); });
});

// frame and caption
option.graphic.push(
  { type: 'line', silent: true, shape: { x1: 10, y1: 11, x2: 1322, y2: 11 }, style: { stroke: '#B5B5B5', lineWidth: 1.5 } },
  { type: 'line', silent: true, shape: { x1: 10, y1: 11, x2: 10, y2: 951 }, style: { stroke: '#B5B5B5', lineWidth: 1.5 } },
  { type: 'text', x: 43, y: 884, silent: true,
    style: { text: 'FIGURE 15', fill: '#6B6B6B', font: "bold 14px Lato, 'Open Sans', sans-serif",
             textVerticalAlign: 'middle', verticalAlign: 'middle' } },
  { type: 'text', x: 43, y: 916, silent: true,
    style: { text: 'GSEA analysis of hub genes (CYBB, CTSS, IRF8, and PTPRC) in SS. GSEA Gene set enrichment analysis.',
             fill: '#6B6B6B', font: "18.8px Lato, 'Open Sans', sans-serif",
             textVerticalAlign: 'middle', verticalAlign: 'middle' } }
);

chart.setOption(option);
</script>
</body>
</html>
